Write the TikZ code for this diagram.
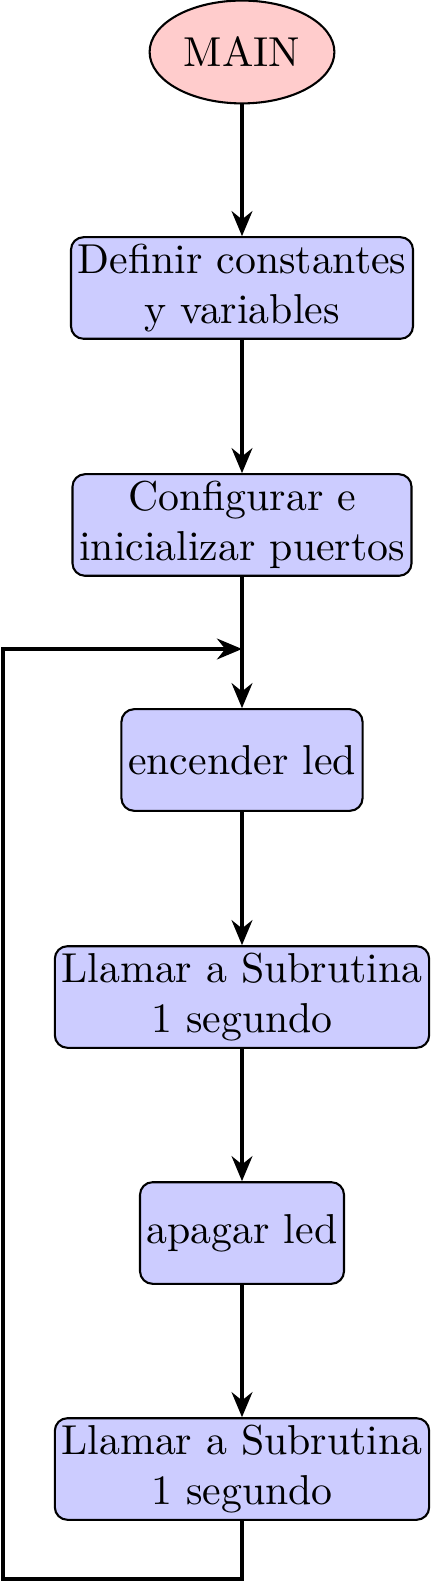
\documentclass[tikz,border=0pt]{standalone}
\usetikzlibrary{shapes.geometric,arrows.meta}
\begin{document}
\begin{tikzpicture}[x=0.2392pt,y=-0.2392pt,
  procbox/.style={draw,line width=0.5pt,rounded corners=3pt,fill=blue!20,align=center,inner xsep=1.6pt,inner ysep=1pt,minimum height=24.3pt,font=\normalsize},
  startnode/.style={draw,line width=0.5pt,ellipse,fill=red!20,minimum width=44.2pt,minimum height=24.6pt,inner sep=0pt},
  flow/.style={line width=0.75pt,-{Stealth[length=6pt,width=5pt,inset=2pt]}},
  loopline/.style={line width=0.75pt}]
\useasboundingbox (0,0) rectangle (431,1583);
\node[startnode] (main) at (242,52) {MAIN};
\node[procbox] (b1) at (242,288) {Definir constantes\\y variables};
\node[procbox] (b2) at (242,525) {Configurar e\\inicializar puertos};
\coordinate (j) at (242,649);
\node[procbox] (b3) at (242,760) {encender led};
\node[procbox] (b4) at (242,997) {Llamar a Subrutina\\1 segundo};
\node[procbox] (b5) at (242,1233) {apagar led};
\node[procbox] (b6) at (242,1469) {Llamar a Subrutina\\1 segundo};
\coordinate (bl) at (242,1579);
\coordinate (lc) at (3,1579);
\draw[flow] (main) -- (b1);
\draw[flow] (b1) -- (b2);
\draw[loopline] (b2.south) -- (j);
\draw[flow] (j) -- (b3.north);
\draw[flow] (b3) -- (b4);
\draw[flow] (b4) -- (b5);
\draw[flow] (b5) -- (b6);
\draw[flow] (b6.south) -- (bl) -- (lc) |- (j);
\end{tikzpicture}
\end{document}
